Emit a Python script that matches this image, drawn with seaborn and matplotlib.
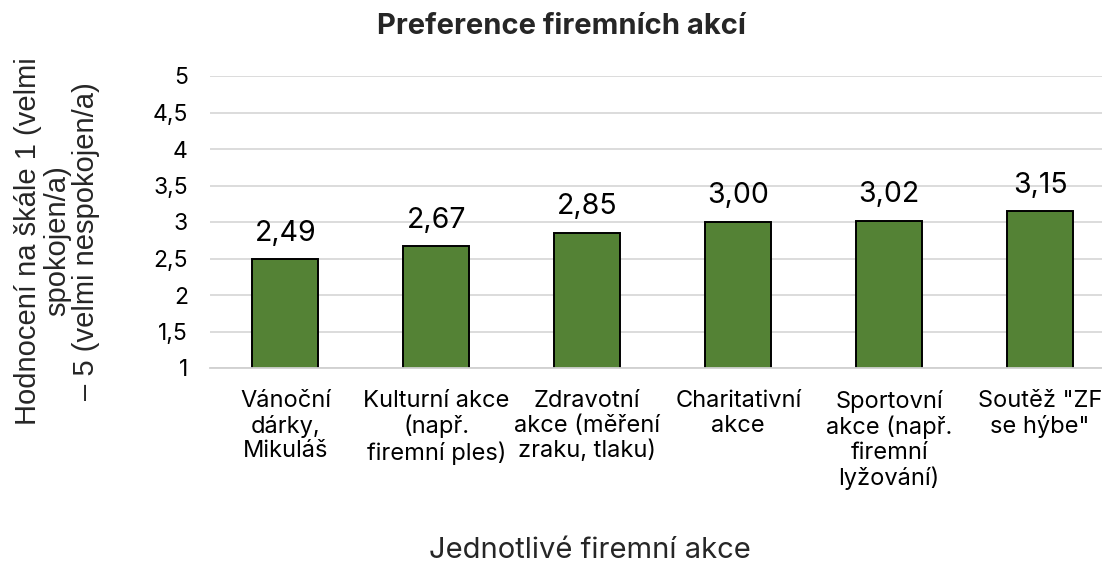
import matplotlib
matplotlib.use("Agg")
import matplotlib.pyplot as plt
import seaborn as sns
from matplotlib.ticker import FuncFormatter

# data
categories = [
    "Vánoční\ndárky,\nMikuláš",
    "Kulturní akce\n(např.\nfiremní ples)",
    "Zdravotní\nakce (měření\nzraku, tlaku)",
    "Charitativní\nakce",
    "Sportovní\nakce (např.\nfiremní\nlyžování)",
    "Soutěž \"ZF\nse hýbe\"",
]
values = [2.49, 2.67, 2.85, 3.00, 3.02, 3.15]
y_ticks = [1, 1.5, 2, 2.5, 3, 3.5, 4, 4.5, 5]

sns.set_theme(style="white")
plt.rcParams['font.family'] = ['Inter', 'DejaVu Sans']

fig = plt.figure(figsize=(11.02, 5.63), dpi=100)
ax = fig.add_axes([210 / 1102, 1 - 368 / 563, 892 / 1102, 292 / 563])

sns.barplot(x=categories, y=values, color="#548235", edgecolor="black",
            linewidth=1.4, width=0.437, saturation=1, ax=ax)

ax.set_ylim(1, 5)
ax.set_xlim(-0.5, 5.41)
ax.set_yticks(y_ticks)
ax.yaxis.set_major_formatter(FuncFormatter(lambda v, p: f"{v:g}".replace(".", ",")))
ax.grid(axis="y", color="#d9d9d9", linewidth=1.3)
ax.set_axisbelow(True)
for s in ["top", "right", "left"]:
    ax.spines[s].set_visible(False)
ax.spines["bottom"].set_color("#d0d0d0")
ax.spines["bottom"].set_linewidth(1.3)
ax.tick_params(axis="y", length=0, pad=16, labelsize=16.5, colors="black")
ax.tick_params(axis="x", length=0, pad=16, labelsize=17, colors="black")
for lab in ax.get_xticklabels():
    lab.set_linespacing(1.15)

ax.bar_label(ax.containers[0],
             labels=[f"{v:.2f}".replace(".", ",") for v in values],
             padding=9, fontsize=20.5, color="black")

ax.set_xlabel("")
ax.set_ylabel("")

fig.text(561 / 1102, 1 - 27 / 563, "Preference firemních akcí", ha="center",
         va="center", fontsize=21, fontweight="bold")
fig.text(590 / 1102, 1 - 550 / 563, "Jednotlivé firemní akce", ha="center",
         va="center", fontsize=21)
fig.text(57 / 1102, 1 - 241 / 563,
         "Hodnocení na škále 1 (velmi\nspokojen/a)\n– 5 (velmi nespokojen/a)",
         ha="center", va="center", rotation=90, fontsize=21,
         family=["Liberation Sans", "DejaVu Sans"], linespacing=1.05)

fig.savefig("out.png", dpi=100)
